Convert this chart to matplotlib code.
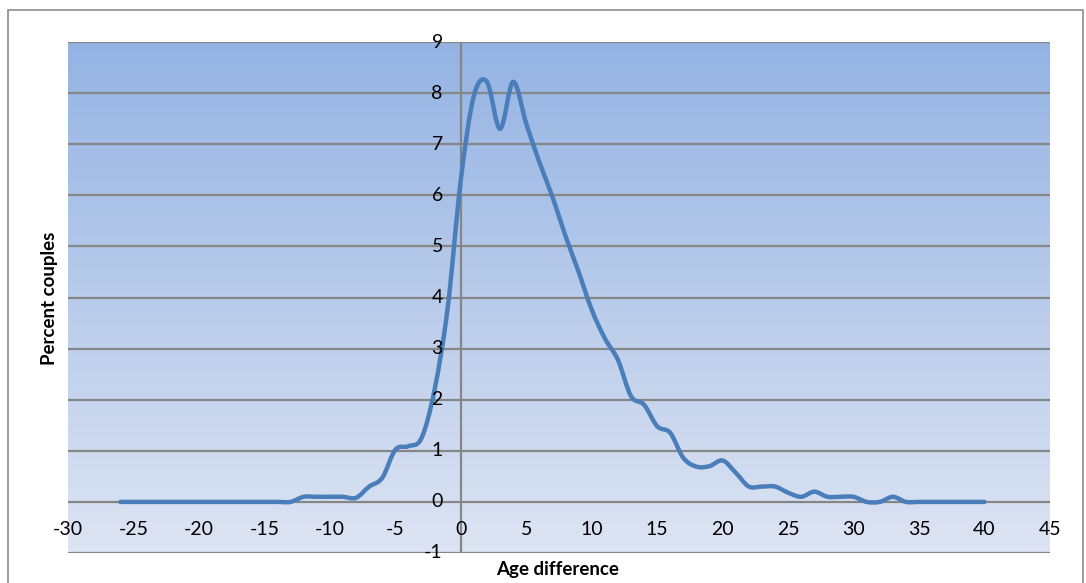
import numpy as np
import matplotlib
matplotlib.use("Agg")
import matplotlib.pyplot as plt
import matplotlib.transforms as mtransforms
from matplotlib.path import Path
from matplotlib.patches import PathPatch, Rectangle

age_diff = list(range(-26, 41))
percent = [0, 0, 0, 0, 0, 0, 0, 0, 0, 0, 0, 0, 0, 0,          # -26..-13
           0.1, 0.1, 0.1, 0.1, 0.08, 0.3, 0.47, 1.02, 1.09, 1.25,  # -12..-3
           2.2, 3.8, 6.3, 7.95, 8.22, 7.3, 8.22, 7.4, 6.65, 5.97,   # -2..7
           5.2, 4.5, 3.76, 3.2, 2.78, 2.07, 1.9, 1.48, 1.35, 0.86,  # 8..17
           0.69, 0.7, 0.81, 0.57, 0.3, 0.3, 0.3, 0.18, 0.1, 0.2,    # 18..27
           0.1, 0.1, 0.1, 0.0, 0.0, 0.1, 0.0, 0, 0, 0, 0, 0, 0]     # 28..40

x_ticks = list(range(-30, 50, 5))
y_ticks = list(range(-1, 10))

plt.rcParams['font.family'] = ['Lato', 'DejaVu Sans']

fig = plt.figure(figsize=(10.86, 5.83), dpi=100)
# chart border
fig.patches.append(Rectangle((8 / 1086, -0.1), (1083 - 8) / 1086, 1.1 - 10 / 583,
                             transform=fig.transFigure, fill=False,
                             edgecolor='#8c8c8c', linewidth=1.2))

left, right = 68 / 1086, 1050 / 1086
top, bottom = 1 - 42 / 583, 1 - 553 / 583
ax = fig.add_axes([left, bottom, right - left, top - bottom])
ax.set_xlim(-30, 45)
ax.set_ylim(-1, 9)

# gradient background
grad = np.linspace(0, 1, 256).reshape(-1, 1)
top_c = np.array([148, 179, 227]) / 255
bot_c = np.array([221, 228, 243]) / 255
img = top_c * (1 - grad)[..., None] + bot_c * grad[..., None]
img = img.reshape(256, 1, 3)
ax.imshow(img, extent=[-30, 45, -1, 9], aspect='auto', zorder=0, origin='upper')

for y in y_ticks:
    ax.axhline(y, color='#868686', linewidth=1.6, zorder=1)
ax.axvline(0, color='#868686', linewidth=1.6, zorder=1)

# smoothed line (Excel-style Catmull-Rom bezier)
pts = np.column_stack([age_diff, percent]).astype(float)
verts = [tuple(pts[0])]
codes = [Path.MOVETO]
n = len(pts)
for i in range(n - 1):
    p0 = pts[i - 1] if i > 0 else pts[i]
    p1 = pts[i]
    p2 = pts[i + 1]
    p3 = pts[i + 2] if i + 2 < n else pts[i + 1]
    c1 = p1 + (p2 - p0) / 6
    c2 = p2 - (p3 - p1) / 6
    verts += [tuple(c1), tuple(c2), tuple(p2)]
    codes += [Path.CURVE4] * 3
ax.add_patch(PathPatch(Path(verts, codes), facecolor='none', edgecolor='#4a7ebb',
                       linewidth=3.2, capstyle='round', joinstyle='round', zorder=3))

for s in ax.spines.values():
    s.set_visible(False)

ax.set_xticks([])
ax.set_yticks([])
for xv in x_ticks:
    ax.text(xv, 0, str(xv), ha='center', va='center', fontsize=14,
            transform=ax.transData + mtransforms.ScaledTranslation(0, -28 / 100, fig.dpi_scale_trans),
            zorder=4)
for yv in y_ticks:
    ax.text(0, yv, str(yv), ha='right', va='center', fontsize=14,
            transform=ax.transData + mtransforms.ScaledTranslation(-18 / 100, 0, fig.dpi_scale_trans),
            zorder=4)

fig.text(50 / 1086, 1 - 298 / 583, 'Percent couples', rotation=90, ha='center', va='center',
         fontsize=13.5, fontweight='bold')
fig.text(558 / 1086, 1 - 570 / 583, 'Age difference', ha='center', va='center',
         fontsize=13.5, fontweight='bold')

fig.savefig('out.png', dpi=100)
